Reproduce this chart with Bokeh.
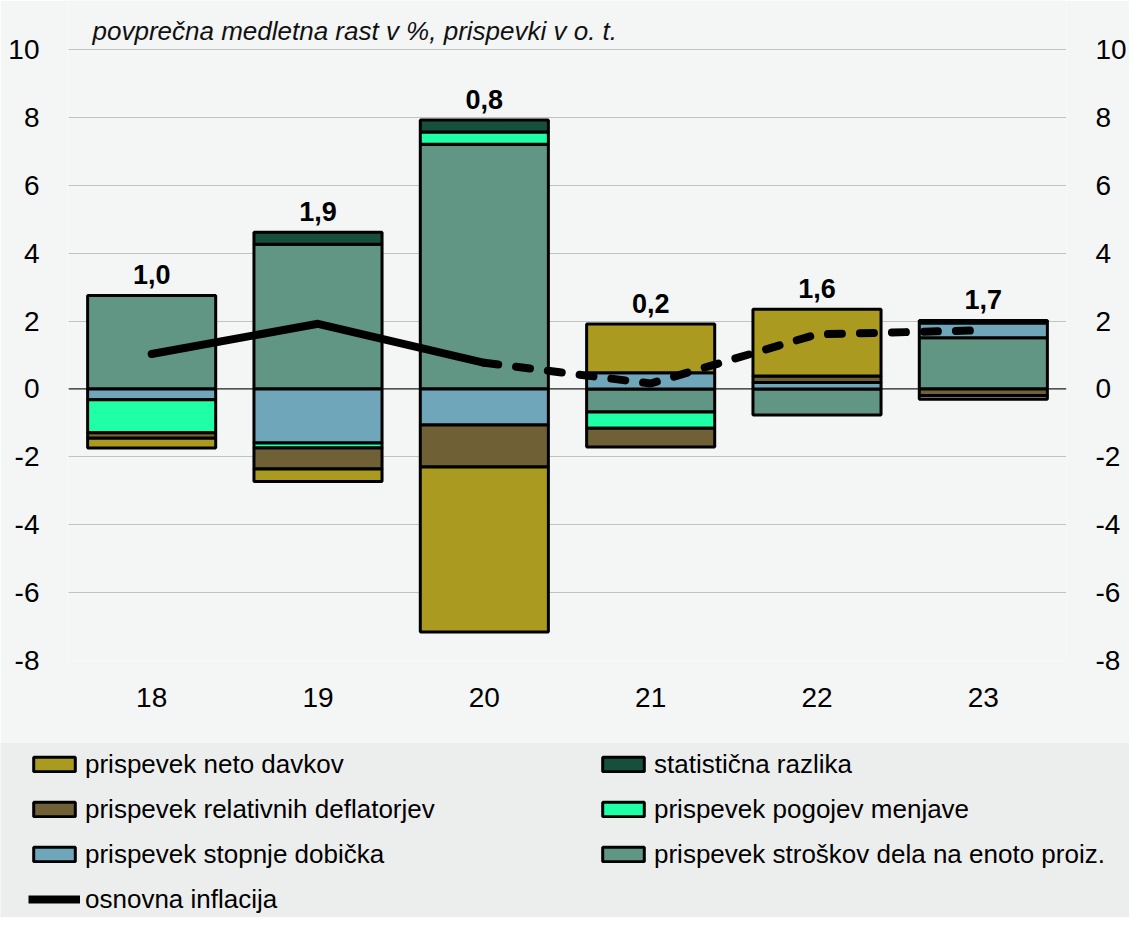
from bokeh.plotting import figure
from bokeh.models import (FactorRange, Range1d, FixedTicker, LinearAxis, Span,
                          Legend, LegendItem, Label, ColumnDataSource)
from bokeh.core.properties import value
from bokeh.embed import file_html
from bokeh.resources import INLINE

# ---------------- data ----------------
years = ["18", "19", "20", "21", "22", "23"]
labor_cost = [2.75, 4.26, 7.21, -0.68, -0.77, 1.51]
profit_rate = [-0.32, -1.59, -1.06, 0.48, 0.19, 0.43]
terms_of_trade = [-0.97, -0.15, 0.36, -0.48, 0.0, 0.0]
relative_deflators = [-0.16, -0.62, -1.24, -0.55, 0.19, -0.19]
net_taxes = [-0.29, -0.37, -4.86, 1.43, 1.97, -0.11]
statistical_diff = [0.0, 0.36, 0.35, 0.0, 0.0, 0.08]
core_inflation = [1.03, 1.92, 0.77, 0.16, 1.61, 1.73]
y_ticks = [-8, -6, -4, -2, 0, 2, 4, 6, 8, 10]

series_names = {
    "labor": "prispevek stroškov dela na enoto proiz.",
    "profit": "prispevek stopnje dobička",
    "tot": "prispevek pogojev menjave",
    "rel": "prispevek relativnih deflatorjev",
    "net": "prispevek neto davkov",
    "stat": "statistična razlika",
}
line_name = "osnovna inflacija"
title_text = "povprečna medletna rast v %, prispevki v o. t."

colors = {
    "labor": "#629684",
    "profit": "#70a6ba",
    "tot": "#1effa6",
    "rel": "#706036",
    "net": "#aa9b20",
    "stat": "#16503c",
}

stack_order = [("labor", labor_cost), ("profit", profit_rate), ("tot", terms_of_trade),
               ("rel", relative_deflators), ("net", net_taxes), ("stat", statistical_diff)]

# ---------------- main figure ----------------
BG = "#f4f5f5"
LEG_BG = "#eceeed"
FONT = "Liberation Sans"

p = figure(width=1129, height=742, x_range=FactorRange(*years, range_padding=0),
           y_range=Range1d(-8, 11.444), output_backend="svg", toolbar_location=None,
           min_border_left=68, min_border_right=54, min_border_top=0, min_border_bottom=82)
p.background_fill_color = BG
p.border_fill_color = BG
p.outline_line_color = None

p.xgrid.grid_line_color = None
p.ygrid.ticker = FixedTicker(ticks=y_ticks)
p.ygrid.grid_line_color = "#8f8f8f"
p.ygrid.grid_line_dash = "1 1"
p.ygrid.grid_line_width = 1

overrides = {t: str(t) for t in y_ticks}

def style_axis(ax, standoff):
    ax.axis_line_color = None
    ax.major_tick_line_color = None
    ax.minor_tick_line_color = None
    ax.major_tick_out = 0
    ax.major_tick_in = 0
    ax.major_label_standoff = standoff
    ax.major_label_text_font = FONT
    ax.major_label_text_font_size = "28px"
    ax.major_label_text_color = "black"

p.yaxis.ticker = FixedTicker(ticks=y_ticks)
p.yaxis.major_label_overrides = overrides
style_axis(p.yaxis[0], 29)
right = LinearAxis(ticker=FixedTicker(ticks=y_ticks), major_label_overrides=overrides)
style_axis(right, 29)
p.add_layout(right, "right")
style_axis(p.xaxis[0], 27)

# ---------------- stacked bars ----------------
pos = [0.0] * len(years)
neg = [0.0] * len(years)
for key, vals in stack_order:
    xs, bots, tops = [], [], []
    for i, v in enumerate(vals):
        if v >= 0:
            b = pos[i]; t = b + v; pos[i] = t
        else:
            b = neg[i]; t = b + v; neg[i] = t
        if v != 0:
            xs.append(years[i]); bots.append(b); tops.append(t)
    src = ColumnDataSource(dict(x=xs, bottom=bots, top=tops))
    p.vbar(x="x", bottom="bottom", top="top", width=0.77, source=src,
           fill_color=colors[key], line_color="black", line_width=3)

p.add_layout(Span(location=0, dimension="width", line_color="black", line_width=1))

# ---------------- core inflation line ----------------
p.line(x=years[:3], y=core_inflation[:3], line_color="black", line_width=8,
       line_cap="round", line_join="round")
p.line(x=years[2:], y=core_inflation[2:], line_color="black", line_width=8,
       line_dash="14 18", line_cap="round", line_join="round")

labels = [f"{v:.1f}".replace(".", ",") for v in core_inflation]
p.text(x=years, y=pos, text=labels, text_font=value(FONT), text_font_style="bold",
       text_font_size="27px", text_align="center", text_baseline="alphabetic",
       y_offset=-21, text_color="black")

p.add_layout(Label(x=24, y=630, x_units="screen", y_units="screen", text=title_text,
                   text_font=FONT, text_font_style="italic", text_font_size="26px",
                   text_baseline="middle", text_color="#111111"))

# ---------------- legend figure ----------------
q = figure(width=1129, height=175, x_range=Range1d(0, 1), y_range=Range1d(0, 1),
           output_backend="svg", toolbar_location=None,
           x_axis_location=None, y_axis_location=None,
           min_border_left=0, min_border_right=0, min_border_top=0, min_border_bottom=0)
q.background_fill_color = LEG_BG
q.border_fill_color = LEG_BG
q.outline_line_color = None
q.xgrid.grid_line_color = None
q.ygrid.grid_line_color = None

nan = float("nan")
leg_r = {}
for key in colors:
    leg_r[key] = q.vbar(x=[nan], top=[nan], bottom=[nan], width=0.5, fill_color=colors[key],
                        line_color="black", line_width=3)
leg_line = q.line(x=[nan, nan], y=[nan, nan], line_color="black", line_width=8)

items = [
    LegendItem(label=series_names["net"], renderers=[leg_r["net"]]),
    LegendItem(label=series_names["rel"], renderers=[leg_r["rel"]]),
    LegendItem(label=series_names["profit"], renderers=[leg_r["profit"]]),
    LegendItem(label=line_name, renderers=[leg_line]),
    LegendItem(label=series_names["stat"], renderers=[leg_r["stat"]]),
    LegendItem(label=series_names["tot"], renderers=[leg_r["tot"]]),
    LegendItem(label=series_names["labor"], renderers=[leg_r["labor"]]),
]
legend = Legend(items=items, location=(28, 2.5), nrows=4, orientation="vertical",
                background_fill_alpha=0, border_line_color=None,
                padding=6, spacing=14, margin=0,
                glyph_width=52, glyph_height=18, label_standoff=5,
                label_width=498, label_height=26,
                label_text_font=FONT, label_text_font_size="26px",
                label_text_color="black")
q.add_layout(legend, "center")

open("out.html", "w").write(file_html([p, q], INLINE))
